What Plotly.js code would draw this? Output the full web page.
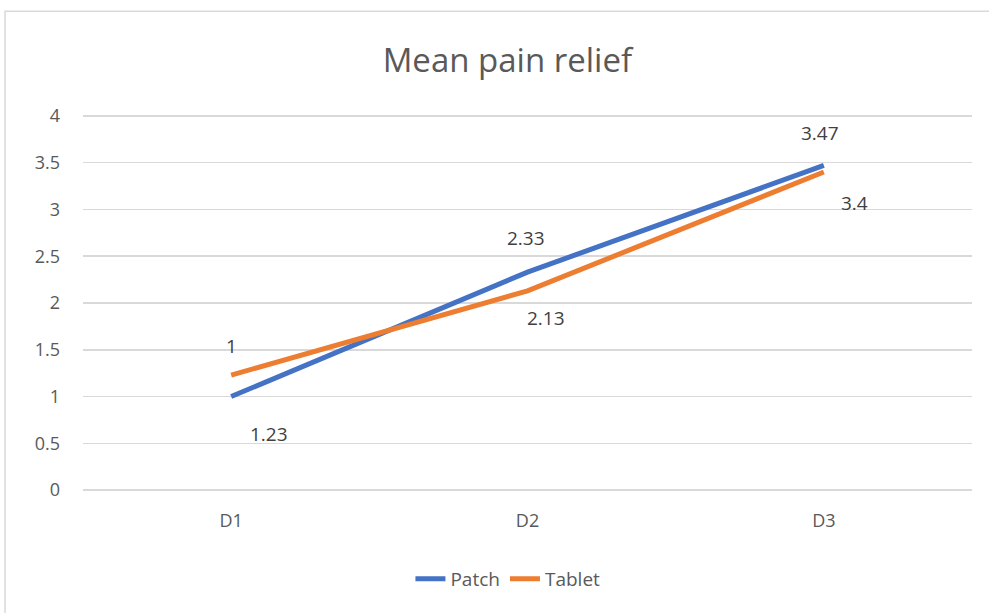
<!DOCTYPE html>
<html>
<head>
<meta charset="utf-8">
<script src="https://cdn.plot.ly/plotly-3.0.1.min.js"></script>
<style>html,body{margin:0;padding:0;background:#fff;}#chart{width:989px;height:613px;}</style>
</head>
<body>
<div id="chart"></div>
<script>
const categories = ["D1", "D2", "D3"];
const patchValues = [1, 2.33, 3.47];
const tabletValues = [1.23, 2.13, 3.4];
const yTickValues = [0, 0.5, 1, 1.5, 2, 2.5, 3, 3.5, 4];
const yTickLabels = ["0", "0.5", "1", "1.5", "2", "2.5", "3", "3.5", "4"];

const BLUE = "#4472C4", ORANGE = "#ED7D31", TXT = "#595959";
const FONT = "Open Sans, Liberation Sans, sans-serif";

const traces = [
  {x: categories, y: patchValues, name: "Patch", type: "scatter", mode: "lines",
   line: {color: BLUE, width: 5}},
  {x: categories, y: tabletValues, name: "Tablet", type: "scatter", mode: "lines",
   line: {color: ORANGE, width: 5}}
];

// label offsets (px) – styling only
const patchShift = [[0, 51], [-2, 34], [-4, 32]];
const tabletShift = [[38, -59], [18, -27], [31, -31]];
const annotations = [];
categories.forEach((c, i) => {
  annotations.push({x: c, y: patchValues[i], xref: "x", yref: "y", text: String(patchValues[i]),
    showarrow: false, xshift: patchShift[i][0], yshift: patchShift[i][1],
    font: {family: FONT, size: 19, color: "#404040"}});
  annotations.push({x: c, y: tabletValues[i], xref: "x", yref: "y", text: String(tabletValues[i]),
    showarrow: false, xshift: tabletShift[i][0], yshift: tabletShift[i][1],
    font: {family: FONT, size: 19, color: "#404040"}});
});

const layout = {
  width: 989, height: 613,
  margin: {l: 83, r: 17, t: 114, b: 121},
  paper_bgcolor: "#fff", plot_bgcolor: "#fff",
  font: {family: FONT, color: TXT},
  title: {text: "Mean pain relief", font: {family: FONT, size: 33, color: TXT},
          x: 0.513, xanchor: "center", y: 1 - 60/613, yanchor: "middle"},
  xaxis: {type: "category", range: [-0.5, 2.5], showgrid: false, zeroline: false,
          showline: false, ticks: "", tickfont: {size: 18, color: TXT, family: FONT},
          ticklabelstandoff: 16, fixedrange: true},
  yaxis: {range: [-0.02, 4.02], tickvals: yTickValues, ticktext: yTickLabels,
          showgrid: true, gridcolor: "#d9d9d9", gridwidth: 1.5, zeroline: false,
          showline: false, ticks: "", tickfont: {size: 18, color: TXT, family: FONT},
          ticklabelstandoff: 22, fixedrange: true},
  showlegend: true,
  legend: {orientation: "h", x: 0.478, xanchor: "center", y: -0.23, yanchor: "middle",
           font: {size: 19, color: TXT, family: FONT}, itemwidth: 30, tracegroupgap: 0},
  annotations: annotations,
  shapes: [{type: "rect", xref: "paper", yref: "paper", x0: -0.0877, x1: 1.03, y0: -0.36, y1: 1.272,
            line: {color: "#d9d9d9", width: 1.5}, fillcolor: "rgba(0,0,0,0)", layer: "below"}]
};

Plotly.newPlot("chart", traces, layout, {displayModeBar: false, staticPlot: true});
</script>
</body>
</html>
